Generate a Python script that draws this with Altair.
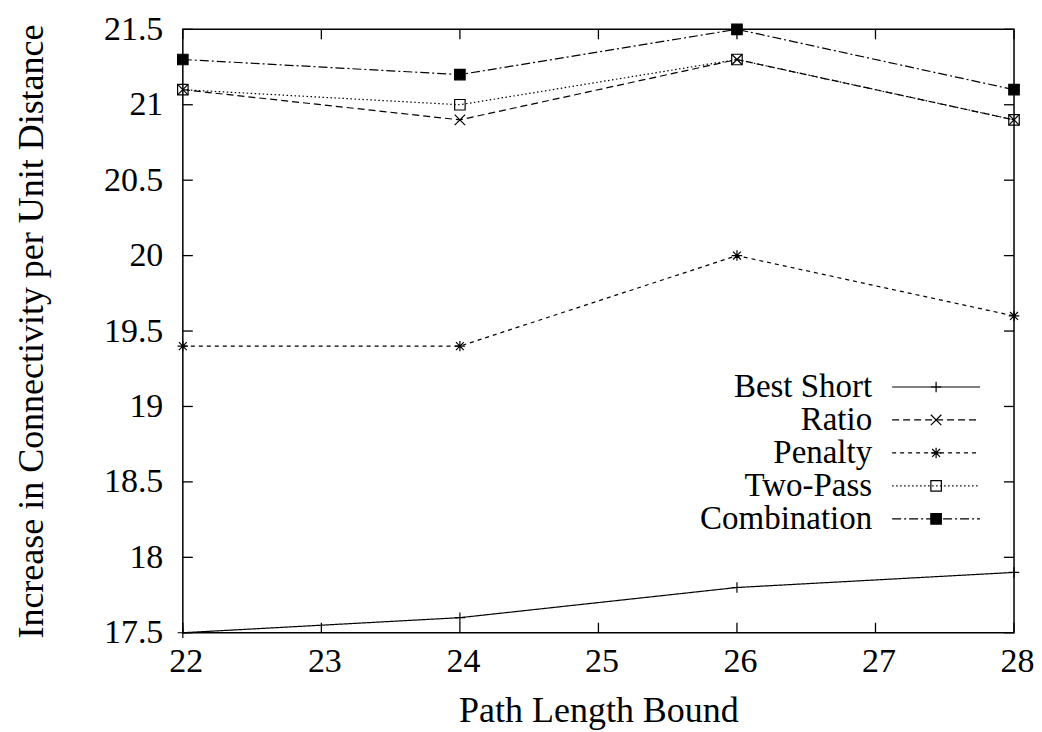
import altair as alt
import pandas as pd

# ---- data ----
path_bounds = [22, 24, 26, 28]
series_names = ["Best Short", "Ratio", "Penalty", "Two-Pass", "Combination"]
best_short = [17.5, 17.6, 17.8, 17.9]
ratio = [21.1, 20.9, 21.3, 20.9]
penalty = [19.4, 19.4, 20.0, 19.6]
two_pass = [21.1, 21.0, 21.3, 20.9]
combination = [21.3, 21.2, 21.5, 21.1]

x_ticks = [22, 23, 24, 25, 26, 27, 28]
y_ticks = [17.5, 18, 18.5, 19, 19.5, 20, 20.5, 21, 21.5]

values_by_series = [best_short, ratio, penalty, two_pass, combination]
rows = []
for name, vals in zip(series_names, values_by_series):
    for xb, v in zip(path_bounds, vals):
        rows.append({"series": name, "bound": xb, "value": v})
df = pd.DataFrame(rows)

W, H = 832, 604
FONT = "'Liberation Serif', 'DejaVu Serif', serif"
FS = 34
TFS = 36
KFS = 33

dash_range = [[1, 0], [7, 4], [4, 4], [1.5, 2.5], [9, 3, 2, 3]]
shape_plus = "M-1,0L1,0M0,-1L0,1"
shape_x = "M-1,-1L1,1M-1,1L1,-1"
shape_star = "M-1,0L1,0M0,-1L0,1M-0.75,-0.75L0.75,0.75M-0.75,0.75L0.75,-0.75"
shape_range = [shape_plus, shape_x, shape_star, "square", "square"]
size_range = [110, 110, 110, 90, 100]
fill_range = ["transparent", "transparent", "transparent", "transparent", "black"]

xs = alt.Scale(domain=[22, 28], nice=False, zero=False)
ys = alt.Scale(domain=[17.5, 21.5], nice=False, zero=False)
dash_scale = alt.Scale(domain=series_names, range=dash_range)
shape_scale = alt.Scale(domain=series_names, range=shape_range)
size_scale = alt.Scale(domain=series_names, range=size_range)
fill_scale = alt.Scale(domain=series_names, range=fill_range)

base = alt.Chart(df)

lines = base.mark_line(color="black", strokeWidth=1.2).encode(
    x=alt.X("bound:Q", scale=xs,
            axis=alt.Axis(values=x_ticks, title="Path Length Bound", tickSize=0,
                          domain=False, grid=False, labelPadding=12, titlePadding=15,
                          labelFlush=False, labelOffset=3, format="~g")),
    y=alt.Y("value:Q", scale=ys,
            axis=alt.Axis(values=y_ticks, title="Increase in Connectivity per Unit Distance",
                          tickSize=0, domain=False, grid=False, labelPadding=20,
                          labelFlush=False, titlePadding=53, format="~g")),
    strokeDash=alt.StrokeDash("series:N", scale=dash_scale, legend=None),
    detail="series:N",
)

points = base.mark_point(filled=True, stroke="black", strokeWidth=1.2, opacity=1).encode(
    x=alt.X("bound:Q", scale=xs),
    y=alt.Y("value:Q", scale=ys),
    shape=alt.Shape("series:N", scale=shape_scale, legend=None),
    size=alt.Size("series:N", scale=size_scale, legend=None),
    fill=alt.Fill("series:N", scale=fill_scale, legend=None),
)

# inward ticks on all four sides (gnuplot style)
xt = alt.Chart(pd.DataFrame({"t": x_ticks}))
yt = alt.Chart(pd.DataFrame({"t": y_ticks}))
TL = 10
x_tick_bottom = xt.mark_rule(color="black", strokeWidth=1.3).encode(
    x=alt.X("t:Q", scale=xs), y=alt.value(H), y2=alt.value(H - TL))
x_tick_top = xt.mark_rule(color="black", strokeWidth=1.3).encode(
    x=alt.X("t:Q", scale=xs), y=alt.value(0), y2=alt.value(TL))
y_tick_left = yt.mark_rule(color="black", strokeWidth=1.3).encode(
    y=alt.Y("t:Q", scale=ys), x=alt.value(0), x2=alt.value(TL))
y_tick_right = yt.mark_rule(color="black", strokeWidth=1.3).encode(
    y=alt.Y("t:Q", scale=ys), x=alt.value(W), x2=alt.value(W - TL))

# gnuplot-style key (text to the left of a line sample)
key_top = 358
key_step = 33
key = pd.DataFrame({
    "series": series_names,
    "py": [key_top + i * key_step for i in range(len(series_names))],
    "tx": [690] * len(series_names),
    "lx1": [710] * len(series_names),
    "lx2": [798] * len(series_names),
    "mx": [754] * len(series_names),
})
kc = alt.Chart(key)
key_text = kc.mark_text(align="right", baseline="middle", font=FONT, fontSize=KFS,
                        color="black").encode(
    x=alt.X("tx:Q", scale=None), y=alt.Y("py:Q", scale=None), text="series:N")
key_line = kc.mark_rule(color="black", strokeWidth=1.2).encode(
    x=alt.X("lx1:Q", scale=None), x2="lx2:Q", y=alt.Y("py:Q", scale=None),
    strokeDash=alt.StrokeDash("series:N", scale=dash_scale, legend=None))
key_mark = kc.mark_point(filled=True, stroke="black", strokeWidth=1.2, opacity=1).encode(
    x=alt.X("mx:Q", scale=None), y=alt.Y("py:Q", scale=None),
    shape=alt.Shape("series:N", scale=shape_scale, legend=None),
    size=alt.Size("series:N", scale=size_scale, legend=None),
    fill=alt.Fill("series:N", scale=fill_scale, legend=None))

chart = alt.layer(
    lines, points, x_tick_bottom, x_tick_top, y_tick_left, y_tick_right,
    key_line, key_mark, key_text
).properties(
    width=W, height=H,
    background="white",
    autosize=alt.AutoSizeParams(type="none"),
    padding={"left": 175, "top": 21, "right": 20, "bottom": 98},
).configure_view(
    stroke="black", strokeWidth=1.5
).configure_axis(
    labelFont=FONT, labelFontSize=FS, labelColor="black",
    titleFont=FONT, titleFontSize=TFS, titleColor="black", titleFontWeight="normal",
)

chart.save("out.html", embed_options={"renderer": "svg", "actions": False})
